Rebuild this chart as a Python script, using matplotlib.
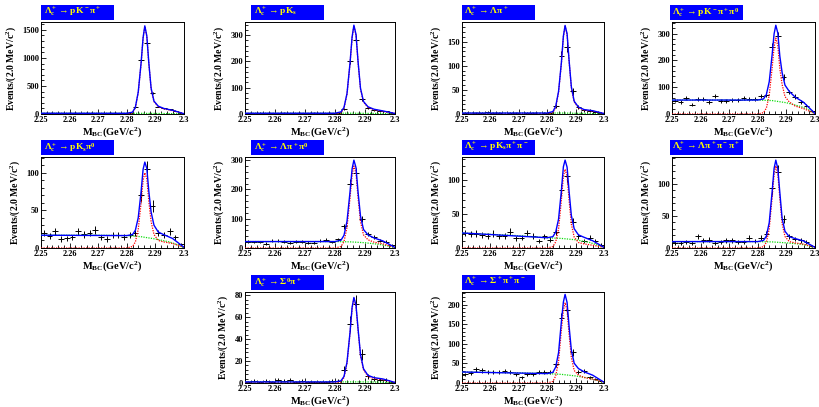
import numpy as np
import matplotlib
matplotlib.use("Agg")
import matplotlib.pyplot as plt
from matplotlib.patches import Rectangle
from matplotlib.ticker import AutoMinorLocator, FixedLocator, MultipleLocator

plt.rcParams["font.family"] = ["Liberation Serif", "DejaVu Serif"]
plt.rcParams["font.weight"] = "bold"
plt.rcParams["axes.labelweight"] = "bold"
plt.rcParams["mathtext.fontset"] = "custom"
plt.rcParams["mathtext.rm"] = "Liberation Serif:bold"
plt.rcParams["mathtext.it"] = "Liberation Serif:bold"
plt.rcParams["mathtext.bf"] = "Liberation Serif:bold"

# bin centres of M_BC (2 MeV bins)
mbc = np.round(np.arange(2.251, 2.300, 0.002), 3)

titles = [
    r"$\Lambda_c^+\rightarrow pK^-\pi^+$",
    r"$\Lambda_c^+\rightarrow pK_s$",
    r"$\Lambda_c^+\rightarrow \Lambda\pi^+$",
    r"$\Lambda_c^+\rightarrow pK^-\pi^+\pi^0$",
    r"$\Lambda_c^+\rightarrow pK_s\pi^0$",
    r"$\Lambda_c^+\rightarrow \Lambda\pi^+\pi^0$",
    r"$\Lambda_c^+\rightarrow pK_s\pi^+\pi^-$",
    r"$\Lambda_c^+\rightarrow \Lambda\pi^+\pi^-\pi^+$",
    r"$\Lambda_c^+\rightarrow \Sigma^0\pi^+$",
    r"$\Lambda_c^+\rightarrow \Sigma^+\pi^+\pi^-$",
]

counts_pkpi = [12, 15, 10, 14, 18, 12, 15, 10, 14, 16, 12, 15, 10, 14, 12, 20,
               125, 970, 1270, 370, 130, 100, 88, 60, 25]
counts_pks = [3, 2, 4, 3, 2, 3, 4, 2, 3, 2, 3, 4, 2, 3, 3, 4,
              20, 203, 282, 57, 22, 15, 12, 10, 5]
counts_lpi = [2, 1, 2, 3, 4, 2, 2, 1, 2, 2, 1, 2, 2, 1, 2, 3,
              17, 120, 140, 47, 14, 8, 7, 5, 3]
counts_pkpipi0 = [50, 45, 60, 35, 55, 55, 45, 68, 48, 48, 52, 52, 60, 55, 55, 68,
                  72, 250, 290, 138, 82, 65, 45, 30, 10]
counts_pkspi0 = [20, 16, 22, 12, 13, 14, 22, 18, 20, 24, 14, 12, 17, 17, 15, 17,
                 20, 70, 105, 56, 20, 17, 22, 14, 5]
counts_lpipi0 = [22, 20, 20, 15, 25, 25, 22, 18, 22, 22, 18, 18, 25, 28, 20, 30,
                 75, 220, 258, 98, 48, 38, 25, 22, 10]
counts_pkspipi = [22, 20, 21, 19, 18, 21, 17, 18, 24, 14, 15, 22, 18, 10, 17, 12,
                  24, 85, 105, 38, 17, 10, 15, 10, 5]
counts_lpipipi = [8, 8, 10, 8, 18, 12, 13, 8, 10, 12, 12, 10, 9, 16, 11, 16,
                  22, 93, 118, 45, 18, 14, 12, 10, 3]
counts_sig0pi = [1, 2, 1, 2, 1, 3, 2, 3, 1, 2, 1, 1, 1, 1, 2, 2,
                 12, 54, 72, 26, 6, 4, 3, 3, 1]
counts_sigpipi = [22, 25, 35, 32, 27, 28, 27, 30, 28, 22, 15, 22, 22, 28, 28, 28,
                  48, 165, 187, 78, 28, 30, 15, 10, 5]

# fit curves: signal knots and background knots
sig_x = [2.250, 2.280, 2.282, 2.283, 2.284, 2.285, 2.2857, 2.2863, 2.287,
         2.2877, 2.2885, 2.2895, 2.291, 2.293, 2.296, 2.300]
bkg_x = [2.250, 2.270, 2.280, 2.285, 2.290, 2.295, 2.298, 2.300]

sig_pkpi = [0, 0, 20, 110, 380, 900, 1350, 1560, 1380, 900, 450, 220, 130, 90, 60, 5]
sig_pks = [0, 0, 5, 22, 75, 190, 290, 335, 300, 195, 95, 45, 25, 16, 10, 2]
sig_lpi = [0, 0, 3, 14, 45, 105, 160, 182, 165, 110, 55, 25, 13, 8, 6, 1]
sig_pkpipi0 = [0, 0, 5, 22, 70, 170, 250, 283, 255, 170, 110, 65, 45, 30, 20, 2]
sig_pkspi0 = [0, 0, 2, 8, 25, 60, 90, 100, 92, 62, 35, 18, 10, 8, 6, 1]
sig_lpipi0 = [0, 0, 5, 22, 70, 170, 250, 280, 255, 170, 90, 45, 28, 20, 14, 2]
sig_pkspipi = [0, 0, 2, 9, 28, 70, 105, 115, 105, 70, 35, 16, 8, 6, 4, 1]
sig_lpipipi = [0, 0, 2, 9, 30, 78, 115, 128, 115, 78, 38, 18, 10, 8, 6, 1]
sig_sig0pi = [0, 0, 1, 5, 18, 45, 68, 77, 70, 48, 25, 12, 6, 4, 3, 0.5]
sig_sigpipi = [0, 0, 4, 18, 55, 135, 185, 205, 185, 125, 65, 32, 20, 14, 10, 2]

bkg_pkpi = [14, 14, 13, 12, 10, 7, 4, 0]
bkg_pks = [3, 3, 3, 3, 2.5, 2, 1, 0]
bkg_lpi = [2, 2, 2, 2, 1.5, 1, 0.5, 0]
bkg_pkpipi0 = [52, 52, 52, 50, 42, 28, 15, 0]
bkg_pkspi0 = [17, 17, 16.5, 15, 12, 8, 4, 0]
bkg_lpipi0 = [22, 22, 22, 21, 18, 12, 6, 0]
bkg_pkspipi = [22, 18, 15, 14, 12, 8, 4, 0]
bkg_lpipipi = [10, 10, 10, 9.5, 8, 6, 3, 0]
bkg_sig0pi = [1, 1, 1, 1, 1, 0.8, 0.4, 0]
bkg_sigpipi = [28, 26, 24, 22, 18, 12, 6, 0]

counts = [counts_pkpi, counts_pks, counts_lpi, counts_pkpipi0, counts_pkspi0,
          counts_lpipi0, counts_pkspipi, counts_lpipipi, counts_sig0pi, counts_sigpipi]
signals = [sig_pkpi, sig_pks, sig_lpi, sig_pkpipi0, sig_pkspi0,
           sig_lpipi0, sig_pkspipi, sig_lpipipi, sig_sig0pi, sig_sigpipi]
backgrounds = [bkg_pkpi, bkg_pks, bkg_lpi, bkg_pkpipi0, bkg_pkspi0,
               bkg_lpipi0, bkg_pkspipi, bkg_lpipipi, bkg_sig0pi, bkg_sigpipi]
y_tops = [1640, 350, 191, 343, 121, 311, 133, 142, 83, 232]
y_steps = [500, 100, 50, 100, 50, 100, 50, 50, 20, 50]

W, H = 819, 407
cols = [(41, 184), (245, 395), (462, 604), (672, 815)]
rows = [(22, 114), (157, 248), (292, 383)]
box_shift = [0, 6, 0, -2]
grid = [(0, 0), (0, 1), (0, 2), (0, 3), (1, 0), (1, 1), (1, 2), (1, 3), (2, 1), (2, 2)]


def make_panel(fig, idx):
    r, c = grid[idx]
    left, right = cols[c]
    top, bottom = rows[r]
    ax = fig.add_axes([left / W, 1 - bottom / H, (right - left) / W, (bottom - top) / H])

    y = np.array(counts[idx], dtype=float)
    ax.errorbar(mbc, y, yerr=np.sqrt(y), xerr=0.001, fmt="none", ecolor="black",
                elinewidth=0.7, capsize=0, zorder=3)

    xs = np.array(sig_x)
    sig = np.array(signals[idx], dtype=float)
    bkg_on_sig = np.interp(xs, bkg_x, backgrounds[idx])
    ax.plot(bkg_x, backgrounds[idx], color="#11dd11", linestyle=(0, (1, 1)), lw=0.9, zorder=4)
    ax.plot(xs, sig, color="red", linestyle=(0, (1, 1)), lw=0.9, zorder=4)
    ax.plot(xs, sig + bkg_on_sig, color="blue", lw=1.0, zorder=5)

    ax.set_xlim(2.25, 2.30)
    ax.set_ylim(0, y_tops[idx])
    ax.xaxis.set_major_locator(FixedLocator([2.25, 2.26, 2.27, 2.28, 2.29, 2.30]))
    ax.set_xticklabels(["2.25", "2.26", "2.27", "2.28", "2.29", "2.3"])
    ax.xaxis.set_minor_locator(MultipleLocator(0.002))
    ax.yaxis.set_major_locator(MultipleLocator(y_steps[idx]))
    ax.yaxis.set_minor_locator(AutoMinorLocator(5))
    ax.tick_params(which="both", direction="in", top=False, right=False,
                   labelsize=6, width=0.6)
    ax.tick_params(which="major", length=3.5)
    ax.tick_params(which="minor", length=2)
    ax.tick_params(axis="x", pad=1.5)
    ax.tick_params(axis="y", pad=1.5)
    for lab in ax.get_xticklabels() + ax.get_yticklabels():
        lab.set_fontweight("bold")
    for spine in ax.spines.values():
        spine.set_linewidth(0.7)

    ax.set_xlabel(r"M$_{BC}$(GeV/$c^2$)", fontsize=7.5, fontweight="bold", labelpad=1)
    ax.set_ylabel(r"Events/(2.0 MeV/$c^2$)", fontsize=7, fontweight="bold", labelpad=3)

    bx = left + box_shift[c]
    box = Rectangle((bx / W, 1 - (top - 2) / H), 73 / W, 15 / H,
                    transform=fig.transFigure, facecolor="#0000ff", edgecolor="none")
    fig.patches.append(box)
    fig.text((bx + 2.5) / W, 1 - (top - 9.5) / H, titles[idx], color="#ffff00",
             fontsize=6.8, fontweight="bold", va="center", ha="left")


def main():
    fig = plt.figure(figsize=(W / 100, H / 100), dpi=100)
    for idx in range(len(titles)):
        make_panel(fig, idx)
    fig.savefig("out.png", dpi=100)
    plt.close(fig)


if __name__ == "__main__":
    main()
